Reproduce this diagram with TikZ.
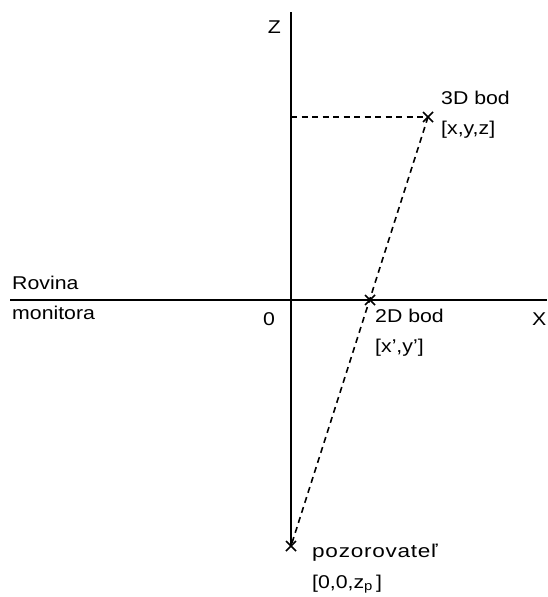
\documentclass[tikz,border=0pt]{standalone}
\usepackage{fontspec}
\setmainfont{Liberation Sans}[FakeStretch=1.15]
\newfontfamily\widefont{Liberation Sans}[FakeStretch=1.22,LetterSpace=4]
\begin{document}
\begin{tikzpicture}[x=1pt,y=-1pt,
  axis/.style={line width=2pt},
  proj/.style={line width=1.6pt, dash pattern=on 6pt off 4.5pt},
  lbl/.style={anchor=base west, inner sep=0pt, font=\fontsize{18.5}{21}\selectfont},
  crossmark/.style={line width=1.5pt}]
\useasboundingbox[fill=white] (0,0) rectangle (547,597);
% points
\coordinate (ztop) at (291,12);
\coordinate (xl) at (10,300);
\coordinate (xr) at (547,300);
\coordinate (zax) at (291,117);
\coordinate (P3) at (428,117);
\coordinate (P2) at (370,300);
\coordinate (PO) at (291,546);
% axes
\draw[axis] (ztop) -- (PO);
\draw[axis] (xl) -- (xr);
% projection lines
\draw[proj] (zax) -- (P3);
\draw[proj] (P3) -- (PO);
% crosses
\foreach \p in {P3,P2,PO}{
  \draw[crossmark] ([shift={(-5,-5)}]\p) -- ([shift={(5,5)}]\p);
  \draw[crossmark] ([shift={(-5,5)}]\p) -- ([shift={(5,-5)}]\p);
}
% labels
\node[lbl, anchor=base east] (lz) at (281,33) {Z};
\node[lbl] (l3a) at (441,104) {3D bod};
\node[lbl] (l3b) at (441,134) {[x,y,z]};
\node[lbl] (lra) at (12,289) {Rovina};
\node[lbl] (lrb) at (12,319) {monitora};
\node[lbl] (l0) at (263,325) {0};
\node[lbl] (l2a) at (375,322) {2D bod};
\node[lbl] (l2b) at (375,352) {[x',y']};
\node[lbl] (lx) at (532,325) {X};
\node[lbl, font=\fontsize{18.5}{21}\widefont] (loa) at (312,557) {pozorovateľ};
\node[lbl] (lob) at (312,588) {[0,0,z\textsubscript{p}\,]};
\end{tikzpicture}
\end{document}
